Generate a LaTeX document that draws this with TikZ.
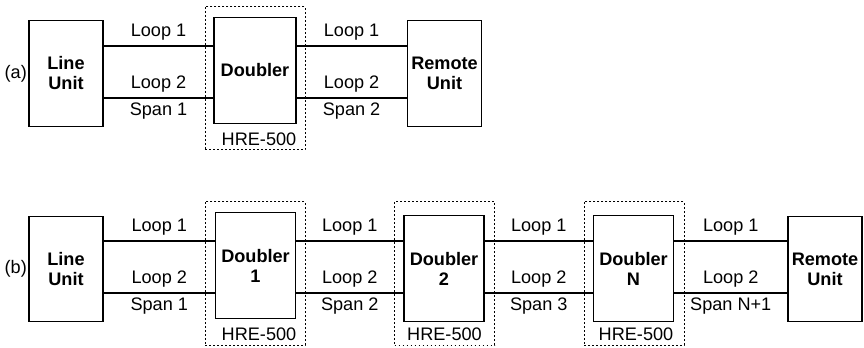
\documentclass[tikz,border=0pt]{standalone}
\usepackage{fontspec}
\setmainfont{Liberation Sans}
\newcommand{\dgfont}{\fontsize{13.6}{15}\selectfont}
\begin{document}
\begin{tikzpicture}[x=0.75pt,y=0.75pt,yscale=-1,xscale=1,font=\dgfont,
  unitbox/.style={draw, line width=0.9pt, minimum width=55.5pt, minimum height=79pt, inner sep=0pt, align=center, font=\dgfont\bfseries},
  dblbox/.style={unitbox, minimum width=60pt},
  hrebox/.style={draw, dash pattern=on 1.4pt off 1.6pt, line width=0.6pt, minimum width=75pt, minimum height=107.5pt, inner sep=0pt},
  wire/.style={line width=1.2pt}]
\useasboundingbox (0,0) rectangle (864,348);

%Row (a)
\coordinate (a1) at (0,46);
\coordinate (a2) at (0,98);
\node[hrebox] (grpa) at (255,78) {};
\node[above, xshift=3pt] (hrea) at (grpa.south) {HRE-500};
\node[unitbox] (linea) at (66,73.5) {Line\\Unit};
\node[dblbox, minimum width=61.5pt] (dbla) at (255,70.5) {Doubler};
\node[unitbox, minimum width=56pt] (remotea) at (444.5,73.5) {Remote\\Unit};
\node[left, inner sep=1pt] (taga) at (linea.west) {(a)};

\draw[wire] (linea.east |- a1) -- node[above] (la1) {Loop 1} (dbla.west |- a1);
\draw[wire] (linea.east |- a2) -- node[above] (la2) {Loop 2} node[below] (sa1) {Span 1} (dbla.west |- a2);
\draw[wire] (dbla.east |- a1) -- node[above] (la3) {Loop 1} (remotea.west |- a1);
\draw[wire] (dbla.east |- a2) -- node[above] (la4) {Loop 2} node[below] (sa2) {Span 2} (remotea.west |- a2);

%Row (b)
\coordinate (b1) at (0,241);
\coordinate (b2) at (0,293);
\node[hrebox] (grp1) at (255,273.5) {};
\node[hrebox] (grp2) at (444.5,273.5) {};
\node[hrebox] (grpn) at (634,273.5) {};
\node[above, xshift=3pt] (hre1) at (grp1.south) {HRE-500};
\node[above] (hre2) at (grp2.south) {HRE-500};
\node[above, xshift=1.5pt] (hren) at (grpn.south) {HRE-500};
\node[unitbox] (lineb) at (66,269) {Line\\Unit};
\node[dblbox] (dbl1) at (255.5,265.5) {Doubler\\1};
\node[dblbox] (dbl2) at (444,268.5) {Doubler\\2};
\node[dblbox] (dbln) at (633.5,268.5) {Doubler\\N};
\node[unitbox] (remoteb) at (825,269) {Remote\\Unit};
\node[left, inner sep=1pt] (tagb) at (lineb.west) {(b)};

\draw[wire] (lineb.east |- b1) -- node[above] (lb1) {Loop 1} (dbl1.west |- b1);
\draw[wire] (lineb.east |- b2) -- node[above] (lb2) {Loop 2} node[below] (sb1) {Span 1} (dbl1.west |- b2);
\draw[wire] (dbl1.east |- b1) -- node[above] (lb3) {Loop 1} (dbl2.west |- b1);
\draw[wire] (dbl1.east |- b2) -- node[above] (lb4) {Loop 2} node[below] (sb2) {Span 2} (dbl2.west |- b2);
\draw[wire] (dbl2.east |- b1) -- node[above] (lb5) {Loop 1} (dbln.west |- b1);
\draw[wire] (dbl2.east |- b2) -- node[above] (lb6) {Loop 2} node[below] (sb3) {Span 3} (dbln.west |- b2);
\draw[wire] (dbln.east |- b1) -- node[above] (lb7) {Loop 1} (remoteb.west |- b1);
\draw[wire] (dbln.east |- b2) -- node[above] (lb8) {Loop 2} node[below] (sbn) {Span N+1} (remoteb.west |- b2);

\end{tikzpicture}
\end{document}
